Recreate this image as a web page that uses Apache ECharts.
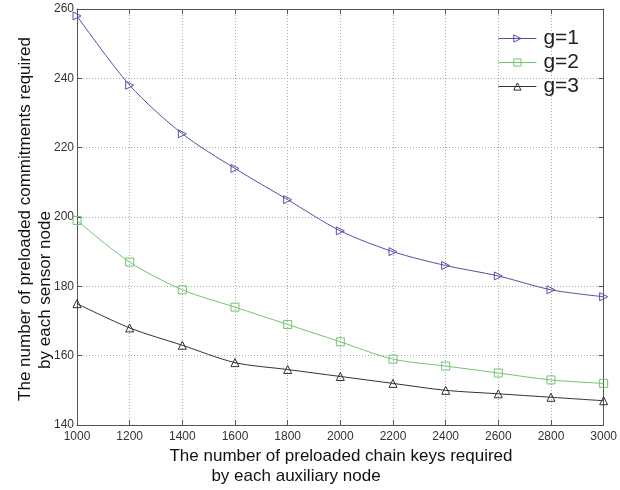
<!DOCTYPE html>
<html>
<head>
<meta charset="utf-8">
<script src="https://cdn.jsdelivr.net/npm/echarts@6/dist/echarts.min.js"></script>
<style>
  html, body { margin: 0; padding: 0; background: #fff; }
  #main { width: 620px; height: 490px; }
</style>
</head>
<body>
<div id="main"></div>
<script>
// chain keys per auxiliary node
var keys = [1000, 1200, 1400, 1600, 1800, 2000, 2200, 2400, 2600, 2800, 3000];
// commitments per sensor node
var g1 = [258, 238, 224, 214, 205, 196, 190, 186, 183, 179, 177];
var g2 = [199, 187, 179, 174, 169, 164, 159, 157, 155, 153, 152];
var g3 = [175, 168, 163, 158, 156, 154, 152, 150, 149, 148, 147];
var names = ['g=1', 'g=2', 'g=3'];
var colors = ['#5252a6', '#72c472', '#333333'];

function pairs(ys) {
	var out = [];
	for (var i = 0; i < keys.length; i++) {
		out.push([keys[i], ys[i]]);
	}
	return out;
}

var font = 'Liberation Sans, Arial, sans-serif';
var chart = echarts.init(document.getElementById('main'));

function mkSeries(name, data, color, symbol, rotate) {
	return {
		name: name,
		type: 'line',
		xAxisIndex: 0,
		yAxisIndex: 0,
		data: pairs(data),
		smooth: 0.3,
		symbol: symbol,
		symbolSize: 8,
		symbolRotate: rotate,
		showAllSymbol: true,
		lineStyle: { color: color, width: 1 },
		itemStyle: { color: 'rgba(255,255,255,0)', borderColor: color, borderWidth: 1 },
		emphasis: { disabled: true },
		z: 3
	};
}

// legend entries: hollow markers, thin lines
var legendData = names.map(function (n, i) {
	return {
		name: n,
		itemStyle: { color: 'rgba(255,255,255,0)', borderColor: colors[i], borderWidth: 1 },
		lineStyle: { color: colors[i], width: 1 }
	};
});

var hidden = {
	axisLabel: { show: false },
	splitLine: { show: false },
	axisLine: { lineStyle: { color: '#555' } },
	axisTick: { inside: true, length: 5, lineStyle: { color: '#555' } }
};

chart.setOption({
	animation: false,
	backgroundColor: '#fff',
	grid: { left: 77, top: 9, right: 14, bottom: 65 },
	legend: {
		right: 36,
		top: 23,
		orient: 'vertical',
		itemWidth: 38,
		itemHeight: 9,
		itemGap: 3,
		data: legendData,
		textStyle: { fontFamily: font, fontSize: 21, color: '#222', padding: [0, 0, 0, 2] }
	},
	xAxis: [{
		type: 'value',
		min: 1000, max: 3000, interval: 200,
		axisLine: { onZero: false, lineStyle: { color: '#555' } },
		axisTick: { inside: true, length: 5, lineStyle: { color: '#555' } },
		axisLabel: { fontFamily: font, fontSize: 12, color: '#333', margin: 6, formatter: function (v) { return String(v); } },
		splitLine: { show: true, lineStyle: { type: [1, 2], color: '#aaa' } }
	}, echarts.util.merge({ type: 'value', position: 'top', min: 1000, max: 3000, interval: 200 }, hidden, true)],
	yAxis: [{
		type: 'value',
		min: 140, max: 260, interval: 20,
		axisLine: { onZero: false, lineStyle: { color: '#555' } },
		axisTick: { inside: true, length: 5, lineStyle: { color: '#555' } },
		axisLabel: { fontFamily: font, fontSize: 12, color: '#333', margin: 3 },
		splitLine: { show: true, lineStyle: { type: [1, 2], color: '#aaa' } }
	}, echarts.util.merge({ type: 'value', position: 'right', min: 140, max: 260, interval: 20 }, hidden, true)],
	graphic: [
		{ type: 'text', x: 341, y: 456, style: { text: 'The number of preloaded chain keys required', font: '17px ' + font, fill: '#111', align: 'center', verticalAlign: 'middle' } },
		{ type: 'text', x: 296, y: 476, style: { text: 'by each auxiliary node', font: '17px ' + font, fill: '#111', align: 'center', verticalAlign: 'middle' } },
		{ type: 'text', x: 25, y: 219, rotation: Math.PI / 2, style: { text: 'The number of preloaded commitments required', font: '17px ' + font, fill: '#111', align: 'center', verticalAlign: 'middle' } },
		{ type: 'text', x: 45, y: 290, rotation: Math.PI / 2, style: { text: 'by each sensor node', font: '17px ' + font, fill: '#111', align: 'center', verticalAlign: 'middle' } }
	],
	series: [
		mkSeries(names[0], g1, colors[0], 'triangle', -90),
		mkSeries(names[1], g2, colors[1], 'rect', 0),
		mkSeries(names[2], g3, colors[2], 'triangle', 0)
	]
});
</script>
</body>
</html>
